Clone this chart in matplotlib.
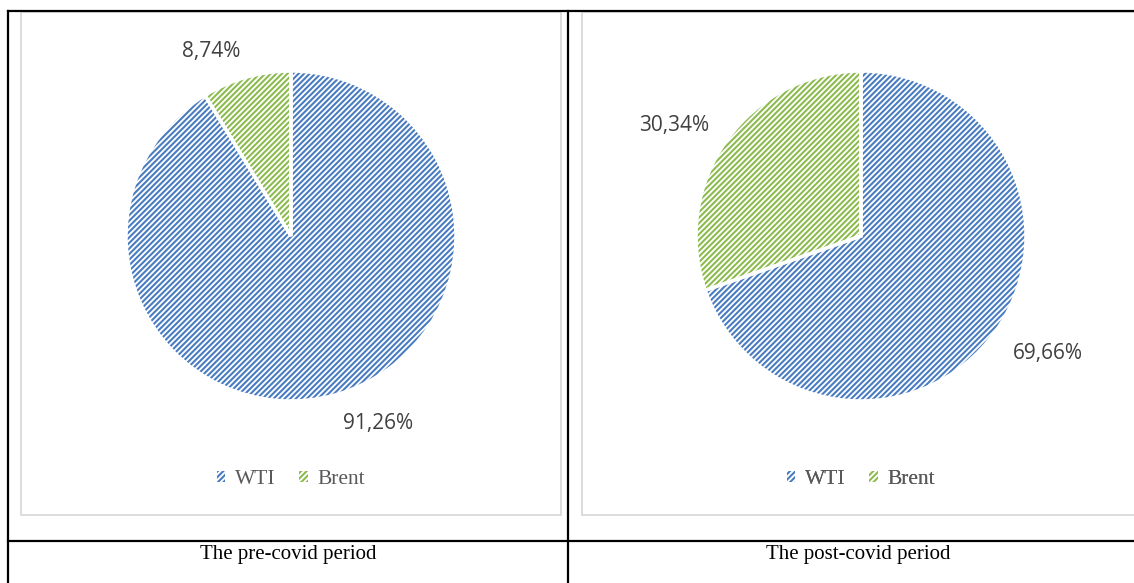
import matplotlib.pyplot as plt
from matplotlib.patches import Rectangle, Patch

plt.rcParams['hatch.linewidth'] = 1.5

W, H = 1134, 583

# data
series = ['WTI', 'Brent']
pre_covid = [91.26, 8.74]
post_covid = [69.66, 30.34]
captions = ['The pre-covid period', 'The post-covid period']
colors = ['#4A7CC0', '#8DBB50']
HATCH = '//////'

fig = plt.figure(figsize=(W / 100, H / 100), dpi=100)

# background axes in pixel coords for table lines and text
bg = fig.add_axes([0, 0, 1, 1])
bg.set_xlim(0, W)
bg.set_ylim(H, 0)
bg.axis('off')

# chart area gray boxes
for x0, x1 in [(21, 561), (582, 1140)]:
    bg.add_patch(Rectangle((x0, 12), x1 - x0, 515 - 12, fill=False,
                           edgecolor='#D9D9D9', linewidth=1.3))

# table lines
lw = 1.6
bg.plot([8, W], [11, 11], color='black', lw=lw)
bg.plot([8, W], [541, 541], color='black', lw=lw)
bg.plot([8, 8], [11, H], color='black', lw=lw)
bg.plot([568, 568], [11, H], color='black', lw=lw)


def draw_pie(cx, values, label_pos, caption):
    r = 165
    cy = 236
    ax = fig.add_axes([(cx - r) / W, (H - cy - r) / H, 2 * r / W, 2 * r / H])
    wedges, _ = ax.pie(values, colors=['white', 'white'], startangle=90,
                       counterclock=False, radius=1)
    for w, c in zip(wedges, colors):
        w.set_edgecolor(c)
        w.set_hatch(HATCH)
        w.set_linewidth(0)
    # white separators
    ax.pie(values, colors=['white', 'white'], startangle=90, counterclock=False,
           radius=1, wedgeprops=dict(edgecolor='white', linewidth=2.5, fill=False))
    ax.set_xlim(-1.0, 1.0)
    ax.set_ylim(-1.0, 1.0)
    ax.set_aspect('auto')

    for v, (lx, ly) in zip(values, label_pos):
        bg.text(lx, ly, f'{v:.2f}%'.replace('.', ','), ha='center', va='center',
                fontsize=15, color='#404040', family='Open Sans')

    handles = [Patch(facecolor='white', edgecolor=c, hatch=HATCH, linewidth=0,
                     label=s) for s, c in zip(series, colors)]
    leg = bg.legend(handles=handles, loc='center', bbox_to_anchor=(cx / W, 1 - 480 / H),
                    bbox_transform=fig.transFigure, ncol=2, frameon=False,
                    handlelength=0.4, handleheight=0.4, handletextpad=0.45,
                    columnspacing=1.1,
                    prop={'family': 'Liberation Serif', 'size': 15.5})
    for t in leg.get_texts():
        t.set_color('#595959')
    bg.add_artist(leg)

    bg.text(cx - 3, 554, caption, ha='center', va='center', fontsize=15,
            color='black', family='Liberation Serif')


draw_pie(291, pre_covid, [(378, 423), (211, 51)], captions[0])
draw_pie(861, post_covid, [(1048, 354), (674, 125)], captions[1])

fig.savefig('out.png', dpi=100)
